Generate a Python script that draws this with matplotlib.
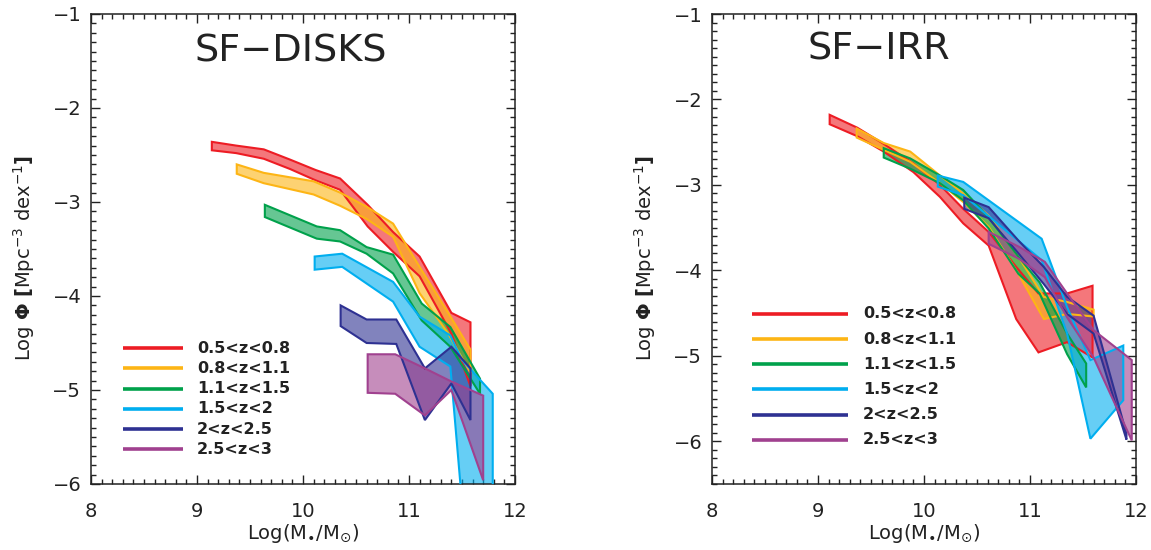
import numpy as np
import matplotlib
matplotlib.use("Agg")
import matplotlib.pyplot as plt
from matplotlib.ticker import MultipleLocator

# ---------------- data ----------------
labels = ["0.5<z<0.8", "0.8<z<1.1", "1.1<z<1.5", "1.5<z<2", "2<z<2.5", "2.5<z<3"]
colors = ["#ed1c24", "#fdb515", "#00a14b", "#00aeef", "#2e3192", "#a0418f"]

# SF-DISKS panel: mass bins, upper and lower edges of each band (Log Phi)
disk_mass = [
    [9.14, 9.37, 9.63, 9.88, 10.12, 10.35, 10.61, 10.85, 11.10, 11.40, 11.58],
    [9.375, 9.63, 10.10, 10.35, 10.60, 10.85, 11.10, 11.37, 11.58],
    [9.64, 10.13, 10.35, 10.60, 10.85, 11.12, 11.39, 11.67],
    [10.11, 10.37, 10.85, 11.10, 11.39, 11.50, 11.79],
    [10.355, 10.60, 10.88, 11.15, 11.40, 11.58],
    [10.61, 10.87, 11.15, 11.40, 11.70],
]
disk_upper = [
    [-2.36, -2.40, -2.44, -2.55, -2.66, -2.75, -3.03, -3.32, -3.58, -4.18, -4.28],
    [-2.60, -2.69, -2.78, -2.90, -3.05, -3.23, -3.69, -4.18, -4.57],
    [-3.03, -3.26, -3.30, -3.48, -3.56, -4.08, -4.33, -4.88],
    [-3.58, -3.55, -3.85, -4.22, -4.42, -4.68, -5.04],
    [-4.10, -4.25, -4.25, -4.77, -4.54, -4.77],
    [-4.62, -4.62, -4.77, -4.91, -5.06],
]
disk_lower = [
    [-2.45, -2.48, -2.54, -2.65, -2.77, -2.87, -3.26, -3.53, -3.79, -4.40, -4.96],
    [-2.70, -2.80, -2.92, -3.04, -3.18, -3.37, -3.97, -4.40, -4.82],
    [-3.16, -3.39, -3.42, -3.55, -3.76, -4.26, -4.54, -5.04],
    [-3.72, -3.69, -4.06, -4.54, -4.75, -6.20, -6.20],
    [-4.32, -4.50, -4.51, -5.32, -4.93, -5.32],
    [-5.03, -5.04, -5.27, -5.00, -5.96],
]

# SF-IRR panel
irr_mass = [
    [9.11, 9.37, 9.62, 9.90, 10.15, 10.37, 10.61, 10.87, 11.08, 11.35, 11.59],
    [9.365, 9.62, 9.87, 10.15, 10.37, 10.61, 10.89, 11.13, 11.35, 11.60],
    [9.62, 9.87, 10.15, 10.37, 10.61, 10.89, 11.09, 11.35, 11.53],
    [10.13, 10.37, 11.11, 11.35, 11.57, 11.88],
    [10.38, 10.61, 10.89, 11.13, 11.35, 11.60, 11.91],
    [10.61, 10.89, 11.14, 11.35, 11.60, 11.96],
]
irr_upper = [
    [-2.18, -2.33, -2.52, -2.75, -3.00, -3.28, -3.55, -3.96, -4.27, -4.27, -4.18],
    [-2.34, -2.51, -2.61, -2.89, -3.10, -3.36, -3.84, -4.31, -4.37, -4.46],
    [-2.57, -2.69, -2.89, -3.06, -3.38, -3.84, -4.14, -4.74, -5.09],
    [-2.89, -2.965, -3.63, -4.43, -5.05, -4.88],
    [-3.15, -3.26, -3.65, -3.96, -4.31, -4.53, -5.91],
    [-3.55, -3.72, -3.90, -4.27, -4.70, -5.05],
]
irr_lower = [
    [-2.29, -2.43, -2.61, -2.85, -3.14, -3.45, -3.71, -4.57, -4.96, -4.84, -5.02],
    [-2.446, -2.59, -2.73, -2.98, -3.20, -3.49, -4.04, -4.57, -4.51, -4.54],
    [-2.68, -2.81, -2.98, -3.18, -3.51, -4.04, -4.27, -4.98, -5.37],
    [-3.02, -3.12, -3.88, -4.74, -5.97, -5.52],
    [-3.28, -3.39, -3.80, -4.16, -4.51, -4.74, -5.98],
    [-3.69, -3.86, -4.08, -4.55, -5.02, -5.99],
]

panels = [
    dict(title="SF\u2212DISKS", mass=disk_mass, up=disk_upper, lo=disk_lower,
         ylim=(-6, -1), title_xy=(9.88, -1.40),
         leg_x=(0.0755, 0.217, 0.25), leg_y0=0.289, leg_dy=0.0430),
    dict(title="SF\u2212IRR", mass=irr_mass, up=irr_upper, lo=irr_lower,
         ylim=(-6.5, -1), title_xy=(9.57, -1.42),
         leg_x=(0.0943, 0.3208, 0.356), leg_y0=0.362, leg_dy=0.0536),
]

# ---------------- figure ----------------
plt.rcParams['font.family'] = ['DejaVu Sans']
plt.rcParams['mathtext.fontset'] = 'dejavusans'
fig = plt.figure(figsize=(11.51, 5.50), dpi=100)
W, H = 1151, 550
ax_boxes = [(91, 14, 515, 484), (712, 14, 1136, 484)]

for box, p in zip(ax_boxes, panels):
    x0, y0, x1, y1 = box
    ax = fig.add_axes([x0 / W, 1 - y1 / H, (x1 - x0) / W, (y1 - y0) / H])
    for m, u, l, c in zip(p['mass'], p['up'], p['lo'], colors):
        xs = list(m) + list(m)[::-1]
        ys = list(u) + list(l)[::-1]
        ax.fill(xs, ys, facecolor=c, alpha=0.6, edgecolor='none', zorder=2)
        ax.fill(xs, ys, facecolor='none', edgecolor=c, lw=1.5, zorder=3)
    ax.set_xlim(8, 12)
    ax.set_ylim(*p['ylim'])
    ax.xaxis.set_major_locator(MultipleLocator(1))
    ax.xaxis.set_minor_locator(MultipleLocator(0.1))
    ax.yaxis.set_major_locator(MultipleLocator(1))
    ax.yaxis.set_minor_locator(MultipleLocator(0.1))
    ax.tick_params(which='both', direction='in', top=True, right=True,
                   width=1.0, colors='#222222', labelcolor='#222222')
    ax.tick_params(which='major', length=6.5)
    ax.tick_params(which='minor', length=3.3)
    ax.tick_params(axis='x', which='major', pad=13, labelsize=14)
    ax.tick_params(axis='y', which='major', pad=7, labelsize=14)
    for s in ax.spines.values():
        s.set_linewidth(1.1)
        s.set_color('#222222')
    ax.set_xlabel(r'Log(M$_{\bullet}$/M$_{\odot}$)', fontsize=14, labelpad=1, color='#222222')
    ax.set_ylabel(r'Log $\mathbf{\Phi}$ $\mathbf{[}$Mpc$^{-3}$ dex$^{-1}\mathbf{]}$',
                  fontsize=14, color='#222222')
    ax.yaxis.set_label_coords(-0.128, 0.48)
    ax.text(p['title_xy'][0], p['title_xy'][1], p['title'], fontsize=27.5,
            ha='center', va='center', color='#222222')
    lx0, lx1, tx = p['leg_x']
    for i, (lab, c) in enumerate(zip(labels, colors)):
        yy = p['leg_y0'] - i * p['leg_dy']
        ax.plot([lx0, lx1], [yy, yy], color=c, lw=2.6, transform=ax.transAxes,
                solid_capstyle='butt', zorder=4)
        ax.text(tx, yy, lab, transform=ax.transAxes, fontsize=11.5, fontweight='bold',
                ha='left', va='center', color='#222222', zorder=4)

fig.savefig("out.png", dpi=100)
